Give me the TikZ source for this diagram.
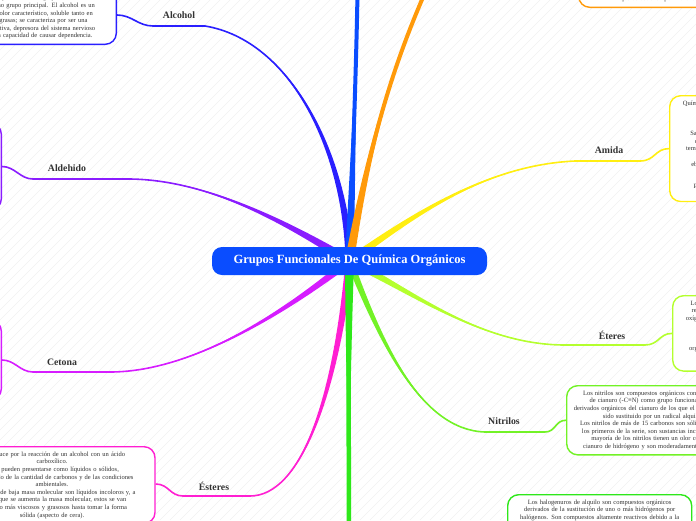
\documentclass[tikz,border=0pt]{standalone}
\usepackage{fontspec}
\setmainfont{Liberation Serif}
\usetikzlibrary{calc,backgrounds}

\definecolor{tinta}{HTML}{333333}
\definecolor{azulcentro}{HTML}{0A4DFF}
\definecolor{alcohol}{HTML}{2A1FFF}
\definecolor{aldehido}{HTML}{8A1CFF}
\definecolor{cetona}{HTML}{D61CFF}
\definecolor{esteres}{HTML}{FF1FD2}
\definecolor{amida}{HTML}{FFEE11}
\definecolor{eteres}{HTML}{B4FF2E}
\definecolor{nitrilos}{HTML}{72F226}
\definecolor{halo}{HTML}{2EE81A}
\definecolor{naranja}{HTML}{FF9A0A}

\tikzset{
  centro/.style={fill=azulcentro, text=white, rounded corners=10pt,
    minimum width=275pt, minimum height=28pt, font=\fontsize{12.5}{14}\selectfont\bfseries},
  etiqueta/.style={text=tinta, inner sep=0pt, font=\fontsize{9.8}{11}\selectfont\bfseries},
  caja/.style={draw=#1, line width=1.4pt, rounded corners=11pt, fill=white, align=center,
    text=tinta, font=\fontsize{6.5}{7.6}\selectfont, inner xsep=4pt, inner ysep=5pt},
  enlace/.style={line width=1.6pt},
  rayado/.style={draw=black!6, line width=0.4pt}
}

% rama afilada: [ancho final]{color}{inicio}{c1}{c2}{fin}{medio ancho}
\newcommand{\rama}[7][1.6pt]{%
  \fill[#2] ($(#3)!#7!90:(#4)$) .. controls ($(#4)!0.5*#7!90:(#5)$) and (#5) .. (#6)
    .. controls (#5) and ($(#4)!0.5*#7!-90:(#5)$) .. ($(#3)!#7!-90:(#4)$) -- cycle;
  \draw[#2,line width=#1] (#3) .. controls (#4) and (#5) .. (#6);}

\begin{document}
\begin{tikzpicture}[x=1pt,y=-1pt]
\useasboundingbox (0,0) rectangle (696,520);

% nodo central
\node[centro] (centro) at (349.5,261) {Grupos Funcionales De Química Orgánicos};

% etiquetas
\node[etiqueta] (alcohol)  at (179,15)  {Alcohol};
\node[etiqueta] (aldehido) at (67,168)  {Aldehido};
\node[etiqueta] (cetona)   at (62,362)  {Cetona};
\node[etiqueta] (esteres)  at (214,486) {Ésteres};
\node[etiqueta] (amida)    at (609,150) {Amida};
\node[etiqueta] (eteres)   at (612,335) {Éteres};
\node[etiqueta] (nitrilos) at (504,421) {Nitrilos};

% cajas
\node[caja=alcohol, anchor=south east, text width=166pt] (caja-alcohol) at (117,45)
  {El alcohol es un compuesto orgánico\\
   que contiene el grupo\\
   hidroxilo como grupo principal. El alcohol es un\\
   incoloro, de olor característico, soluble tanto en\\
   en agua y grasas; se caracteriza por ser una\\
   droga psicoactiva, depresora del sistema nervioso\\
   central y con capacidad de causar dependencia.};
\node[caja=aldehido, anchor=east, minimum width=150pt, minimum height=87pt] (caja-aldehido) at (2,166.5) {};
\node[caja=cetona, anchor=east, minimum width=150pt, minimum height=80pt] (caja-cetona) at (2,360) {};
\node[caja=esteres, anchor=north, text width=198pt] (caja-esteres) at (52,446)
  {Se produce por la reacción de un alcohol con un ácido\\
   carboxílico.\\
   Estos pueden presentarse como líquidos o sólidos,\\
   dependiendo de la cantidad de carbonos y de las condiciones\\
   ambientales.\\
   Los ésteres de baja masa molecular son líquidos incoloros y, a\\
   medida que se aumenta la masa molecular, estos se van\\
   volviendo más viscosos y grasosos hasta tomar la forma\\
   sólida (aspecto de cera).};
\node[caja=naranja, anchor=south west, text width=200pt] (caja-naranja) at (578,8)
  {Los aminoácidos son compuestos orgánicos\\
   que se obtienen por hidrólisis de las proteínas.};
\node[caja=amida, anchor=north west, text width=144pt] (caja-amida) at (669,95)
  {Químicamente, las amidas son compuestos que\\
   derivan de los ácidos\\
   carboxílicos al sustituir\\
   el grupo OH por un grupo amino.\\
   Salvo la formamida, que es líquida, todas\\
   carboxamidas simples son sólidas a la\\
   temperatura ambiente y sus puntos de fusión\\
   y de\\
   ebullición son elevados. Son solubles en\\
   agua cuando tienen\\
   pocos átomos de carbono.\\
   Presentan un carácter básico muy débil\\
   en disolución acuosa.};
\node[caja=eteres, anchor=north west, text width=118pt] (caja-eteres) at (672,295)
  {Los éteres son compuestos que se\\
   reconocen por tener un átomo de\\
   oxígeno unido a dos radicales alquilo\\
   o arilo.\\
   Son poco reactivos y\\
   se usan como disolventes\\
   orgánicos en numerosas reacciones\\
   de síntesis\\
   en el laboratorio.};
\node[caja=nitrilos, anchor=north west, text width=164pt] (caja-nitrilos) at (566,385)
  {Los nitrilos son compuestos orgánicos con un grupo\\
   de cianuro (-C≡N) como grupo funcional y son\\
   derivados orgánicos del cianuro de los que el hidrógeno ha\\
   sido sustituido por un radical alquilo.\\
   Los nitrilos de más de 15 carbonos son sólidos. Salvo\\
   los primeros de la serie, son sustancias incoloras. La\\
   mayoría de los nitrilos tienen un olor como el\\
   cianuro de hidrógeno y son moderadamente tóxicos.};
\node[caja=halo, anchor=north west, text width=176pt] (caja-halo) at (507,494)
  {Los halogenuros de alquilo son compuestos orgánicos\\
   derivados de la sustitución de uno o más hidrógenos por\\
   halógenos. Son compuestos altamente reactivos debido a la\\
   polaridad del enlace carbono-halógeno.};

% extremos de los subrayados
\coordinate (alcohol-d) at (205,26);  \coordinate (alcohol-i) at (153,26);
\coordinate (aldehido-d) at (130,179); \coordinate (aldehido-i) at (33,179);
\coordinate (cetona-d) at (110,372);  \coordinate (cetona-i) at (33,372);
\coordinate (esteres-d) at (250,496); \coordinate (esteres-i) at (183,496);
\coordinate (amida-d) at (575,161);   \coordinate (amida-i) at (640,161);
\coordinate (eteres-d) at (565,345);  \coordinate (eteres-i) at (645,345);
\coordinate (nitrilos-d) at (485,432); \coordinate (nitrilos-i) at (545,432);
\coordinate (arriba) at (358,-40);
\coordinate (naranja-d) at (440,-40);
\coordinate (abajo) at (349,560);

\begin{scope}[on background layer]
  % fondo rayado
  \foreach \i in {-520,-510,...,700}
    \draw[rayado] (\i,520) -- ++(520,-520);
  % ramas
  \rama{alcohol}{centro.center}{345,150}{290,40}{alcohol-d}{4pt}
  \rama{aldehido}{centro.center}{290,225}{210,180}{aldehido-d}{4.5pt}
  \rama{cetona}{centro.center}{300,300}{200,372}{cetona-d}{4pt}
  \rama{esteres}{centro.center}{335,400}{300,496}{esteres-d}{4pt}
  \rama{amida}{centro.center}{420,210}{490,165}{amida-d}{4pt}
  \rama{eteres}{centro.center}{410,290}{480,345}{eteres-d}{4pt}
  \rama{nitrilos}{centro.center}{380,340}{420,430}{nitrilos-d}{3.5pt}
  \rama[4pt]{azulcentro}{centro.center}{353,150}{357,50}{arriba}{4.5pt}
  \rama[4pt]{naranja}{centro.center}{368,150}{392,60}{naranja-d}{4.5pt}
  \rama[4.5pt]{halo}{centro.center}{348,380}{349,460}{abajo}{4.5pt}
  % subrayados y enlaces a las cajas
  \draw[enlace,alcohol] (alcohol-d) -- (alcohol-i)
    .. controls +(-15,0) and +(15,0) .. ($(caja-alcohol.south east)+(0,-30)$);
  \draw[enlace,aldehido] (aldehido-d) -- (aldehido-i)
    .. controls +(-13,0) and +(13,0) .. (caja-aldehido.east);
  \draw[enlace,cetona] (cetona-d) -- (cetona-i)
    .. controls +(-13,0) and +(13,0) .. (caja-cetona.east);
  \draw[enlace,esteres] (esteres-d) -- (esteres-i)
    .. controls +(-13,0) and +(13,0) .. ($(caja-esteres.north east)+(0,38)$);
  \draw[enlace,amida] (amida-d) -- (amida-i)
    .. controls +(15,0) and +(-14,0) .. (caja-amida.west);
  \draw[enlace,eteres] (eteres-d) -- (eteres-i)
    .. controls +(14,0) and +(-13,0) .. (caja-eteres.west);
  \draw[enlace,nitrilos] (nitrilos-d) -- (nitrilos-i)
    .. controls +(11,0) and +(-11,0) .. (caja-nitrilos.west);
\end{scope}
\end{tikzpicture}
\end{document}
